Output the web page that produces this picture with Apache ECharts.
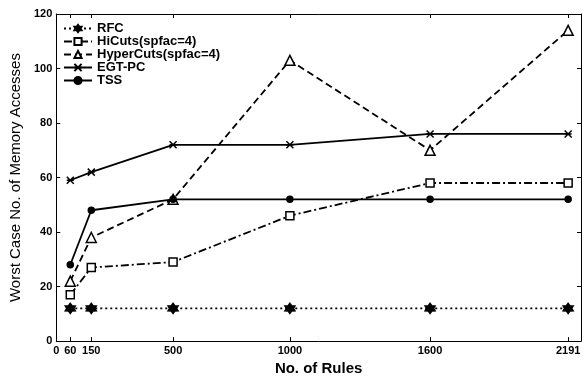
<!DOCTYPE html>
<html>
<head>
<meta charset="utf-8">
<script src="https://cdn.jsdelivr.net/npm/echarts@6/dist/echarts.min.js"></script>
<style>html,body{margin:0;padding:0;background:#fff}#chart{width:584px;height:381px}</style>
</head>
<body>
<div id="chart"></div>
<script>
// number of rules (x) and worst case memory accesses per algorithm
var rules = [60, 150, 500, 1000, 1600, 2191];
var xTicks = [0, 60, 150, 500, 1000, 1600, 2191];
var rfc = [12, 12, 12, 12, 12, 12];
var hicuts = [17, 27, 29, 46, 58, 58];
var hypercuts = [22, 38, 52, 103, 70, 114];
var egtpc = [59, 62, 72, 72, 76, 76];
var tss = [28, 48, 52, 52, 52, 52];

(function(){
  var chart = echarts.init(document.getElementById('chart'));
  var font = 'Liberation Sans, Arial, sans-serif';
  var crossPath = 'path://M0,0L10,10M10,0L0,10M0,5L10,5';

  function pts(arr) {
    return rules.map(function (r, i) { return [r, arr[i]]; });
  }

  function mk(name, arr, lineType, symbol, size, fill) {
    return {
      name: name,
      type: 'line',
      data: pts(arr),
      symbol: symbol,
      symbolSize: size,
      showAllSymbol: true,
      lineStyle: { color: '#000', width: 1.8, type: lineType },
      itemStyle: { color: fill, borderColor: '#000', borderWidth: 1.5 },
      emphasis: { disabled: true },
      animation: false
    };
  }

  var option = {
    backgroundColor: '#fff',
    animation: false,
    grid: { left: 49, right: 3, top: 14, bottom: 28 },
    legend: {
      orient: 'vertical',
      left: 58,
      top: 17,
      itemGap: 0,
      itemWidth: 28,
      itemHeight: 9,
      textStyle: { fontFamily: font, fontWeight: 'bold', fontSize: 13, color: '#000', lineHeight: 13 },
      data: ['RFC', 'HiCuts(spfac=4)', 'HyperCuts(spfac=4)', 'EGT-PC', 'TSS']
    },
    xAxis: [{
      type: 'value',
      min: 0,
      max: 2246,
      name: 'No. of Rules',
      nameLocation: 'middle',
      nameGap: 16,
      nameTextStyle: { fontFamily: font, fontWeight: 'bold', fontSize: 15, color: '#000' },
      axisLine: { onZero: false, lineStyle: { color: '#000', width: 1 } },
      axisTick: { inside: true, length: 4, customValues: xTicks, lineStyle: { color: '#000' } },
      axisLabel: {
        customValues: xTicks, fontFamily: font, fontWeight: 'bold', fontSize: 11, color: '#000', margin: 4,
        formatter: function (v) { return String(v); }
      },
      splitLine: { show: false }
    }, {
      type: 'value',
      position: 'top',
      min: 0,
      max: 2246,
      axisLine: { show: true, onZero: false, lineStyle: { color: '#000', width: 1 } },
      axisTick: { inside: true, length: 4, customValues: xTicks, lineStyle: { color: '#000' } },
      axisLabel: { show: false },
      splitLine: { show: false }
    }],
    yAxis: [{
      type: 'value',
      min: 0,
      max: 120,
      interval: 20,
      name: 'Worst Case No. of Memory Accesses',
      nameLocation: 'middle',
      nameGap: 29,
      nameTextStyle: { fontFamily: font, fontSize: 15, color: '#000' },
      axisLine: { show: true, onZero: false, lineStyle: { color: '#000', width: 1 } },
      axisTick: { inside: true, length: 4, lineStyle: { color: '#000' } },
      axisLabel: { fontFamily: font, fontWeight: 'bold', fontSize: 11, color: '#000', margin: 4 },
      splitLine: { show: false }
    }, {
      type: 'value',
      position: 'right',
      min: 0,
      max: 120,
      interval: 20,
      axisLine: { show: true, onZero: false, lineStyle: { color: '#000', width: 1 } },
      axisTick: { inside: true, length: 4, lineStyle: { color: '#000' } },
      axisLabel: { show: false },
      splitLine: { show: false }
    }],
    series: [
      mk('RFC', rfc, [2, 3], 'path://M5,0L6.5,2.4L9.3,2.5L8,5L9.3,7.5L6.5,7.6L5,10L3.5,7.6L0.7,7.5L2,5L0.7,2.5L3.5,2.4Z', 10, '#000'),
      mk('HiCuts(spfac=4)', hicuts, [8, 3, 2, 3], 'rect', 8, '#fff'),
      mk('HyperCuts(spfac=4)', hypercuts, [7, 4], 'triangle', 10, '#fff'),
      mk('EGT-PC', egtpc, 'solid', crossPath, 7, '#000'),
      mk('TSS', tss, 'solid', 'circle', 6, '#000')
    ]
  };
  chart.setOption(option);
})();
</script>
</body>
</html>
